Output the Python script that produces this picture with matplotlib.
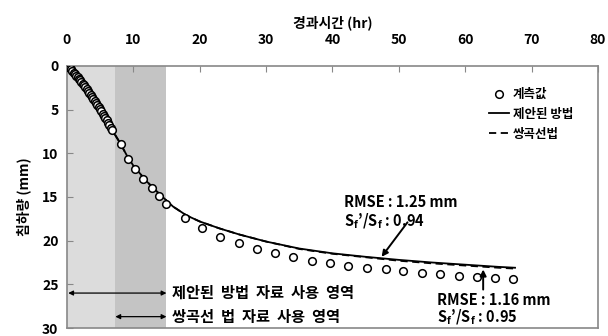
import matplotlib
matplotlib.use("Agg")
import matplotlib.pyplot as plt
from matplotlib.lines import Line2D

plt.rcParams['font.family'] = ['Noto Sans CJK KR', 'DejaVu Sans']
plt.rcParams['mathtext.fontset'] = 'custom'
plt.rcParams['mathtext.rm'] = 'Noto Sans CJK KR'
plt.rcParams['mathtext.bf'] = 'Noto Sans CJK KR:bold'

# measured settlement (hr, mm)
obs_time = [0, 0.1, 0.2, 0.3, 0.45, 0.6, 0.8, 1.0, 1.2, 1.4, 1.6, 1.8, 2.0, 2.2,
            2.4, 2.6, 2.8, 3.0, 3.2, 3.4, 3.6, 3.8, 4.0, 4.2, 4.4, 4.6, 4.8, 5.0,
            5.2, 5.4, 5.6, 5.8, 6.0, 6.2, 6.4, 6.6, 6.8,
            8.1, 9.2, 10.3, 11.5, 12.75, 13.9, 15.0,
            17.8, 20.4, 23.1, 25.9, 28.7, 31.4, 34.1, 36.9, 39.7, 42.4, 45.2,
            48.0, 50.7, 53.5, 56.2, 59.0, 61.7, 64.5, 67.2]
obs_settle = [0, 0.05, 0.1, 0.17, 0.27, 0.4, 0.58, 0.76, 0.92, 1.1, 1.28, 1.46,
              1.65, 1.84, 2.03, 2.23, 2.43, 2.64, 2.85, 3.07, 3.29, 3.51, 3.74,
              3.97, 4.2, 4.44, 4.68, 4.93, 5.18, 5.44, 5.7, 5.97, 6.24, 6.52,
              6.8, 7.08, 7.35,
              8.9, 10.6, 11.85, 12.95, 13.95, 14.85, 15.75,
              17.4, 18.6, 19.6, 20.3, 20.9, 21.4, 21.9, 22.3, 22.6, 22.85, 23.1,
              23.3, 23.5, 23.7, 23.85, 24.0, 24.15, 24.3, 24.4]

# proposed method prediction
prop_time = [0, 1, 2, 3, 4, 5, 6, 7, 8, 9, 10, 12, 14, 16, 18, 20, 23, 26, 30,
             35, 40, 45, 50, 55, 60, 65, 67.5]
prop_settle = [0, 0.75, 1.65, 2.64, 3.74, 4.93, 6.24, 7.6, 8.8, 10.2, 11.4, 13.2,
               14.7, 16.1, 17.1, 17.8, 18.6, 19.3, 20.1, 20.9, 21.45, 21.85,
               22.2, 22.5, 22.75, 23.0, 23.1]

# hyperbolic method prediction
hyp_time = [7.3, 8, 9, 10, 12, 14, 16, 18, 20, 23, 26, 30, 35, 40, 45, 50, 55,
            60, 65, 67.5]
hyp_settle = [7.9, 8.8, 10.2, 11.4, 13.2, 14.7, 16.1, 17.1, 17.8, 18.6, 19.3,
              20.1, 20.95, 21.5, 21.9, 22.3, 22.6, 22.85, 23.1, 23.2]

fig = plt.figure(figsize=(6.08, 3.36), dpi=100)
ax = fig.add_axes([0.110, 0.0238, 0.8736, 0.7798])

# data ranges used by each method
ax.axvspan(0, 15, color='#dcdcdc', lw=0, zorder=0)
ax.axvspan(7.3, 15, color='#c4c4c4', lw=0, zorder=0)

ax.plot(prop_time, prop_settle, color='black', lw=1.3, zorder=2)
ax.plot(hyp_time, hyp_settle, color='black', lw=1.3, ls=(0, (4, 2.5)), zorder=2)
ax.plot(obs_time, obs_settle, 'o', ms=5.5, mfc='white', mec='black', mew=1.1,
        zorder=3)

ax.set_xlim(0, 80)
ax.set_ylim(30, 0)
ax.set_xticks(range(0, 81, 10))
ax.set_yticks(range(0, 31, 5))
ax.xaxis.tick_top()
ax.xaxis.set_label_position('top')
ax.tick_params(direction='in', length=4, color='#888888', labelsize=10, pad=6)
ax.tick_params(axis='x', pad=14)
for lab in ax.get_xticklabels() + ax.get_yticklabels():
    lab.set_fontweight('bold')
for sp in ax.spines.values():
    sp.set_color('#888888')
    sp.set_linewidth(1.2)

ax.set_xlabel('경과시간 (hr)', fontsize=10, fontweight='bold', labelpad=4)
ax.set_ylabel('침하량 (mm)', fontsize=10, fontweight='bold', labelpad=8)

# range arrows
ax.annotate('', xy=(15, 26.0), xytext=(0.2, 26.0),
            arrowprops=dict(arrowstyle='<|-|>', color='black', lw=0.9,
                            mutation_scale=7, shrinkA=0, shrinkB=0))
ax.annotate('', xy=(15, 28.7), xytext=(7.3, 28.7),
            arrowprops=dict(arrowstyle='<|-|>', color='black', lw=0.9,
                            mutation_scale=7, shrinkA=0, shrinkB=0))
ax.text(15.8, 26.0, '제안된  방법  자료  사용  영역', fontsize=11, fontweight='bold',
        va='center', ha='left')
ax.text(15.8, 28.7, '쌍곡선  법  자료  사용  영역', fontsize=11, fontweight='bold',
        va='center', ha='left')

# error notes
ax.annotate('', xy=(47.4, 21.85), xytext=(51.3, 17.9),
            arrowprops=dict(arrowstyle='-|>', color='black', lw=1.4,
                            mutation_scale=9, shrinkA=0, shrinkB=0))
ax.text(41.8, 15.6, 'RMSE : 1.25 mm', fontsize=10.5, fontweight='bold', va='center')
ax.text(41.8, 17.8, r"$\mathbf{S_f}$’/$\mathbf{S_f}$ : 0.94", fontsize=10.5,
        fontweight='bold', va='center')

ax.annotate('', xy=(62.7, 23.3), xytext=(62.7, 25.6),
            arrowprops=dict(arrowstyle='-|>', color='black', lw=1.4,
                            mutation_scale=9, shrinkA=0, shrinkB=0))
ax.text(55.7, 26.8, 'RMSE : 1.16 mm', fontsize=10.5, fontweight='bold', va='center')
ax.text(55.7, 28.75, r"$\mathbf{S_f}$’/$\mathbf{S_f}$ : 0.95", fontsize=10.5,
        fontweight='bold', va='center')

handles = [
    Line2D([], [], ls='none', marker='o', ms=5.5, mfc='white', mec='black', mew=1.1),
    Line2D([], [], color='black', lw=1.3),
    Line2D([], [], color='black', lw=1.3, ls=(0, (4, 2.5))),
]
leg = ax.legend(handles, ['계측값', '제안된 방법', '쌍곡선법'], loc='upper left',
                bbox_to_anchor=(0.783, 0.94), frameon=False, fontsize=9,
                handlelength=1.6, handletextpad=0.3, labelspacing=0.55,
                borderpad=0)
for t in leg.get_texts():
    t.set_fontweight('bold')

fig.savefig('out.png', dpi=100)
